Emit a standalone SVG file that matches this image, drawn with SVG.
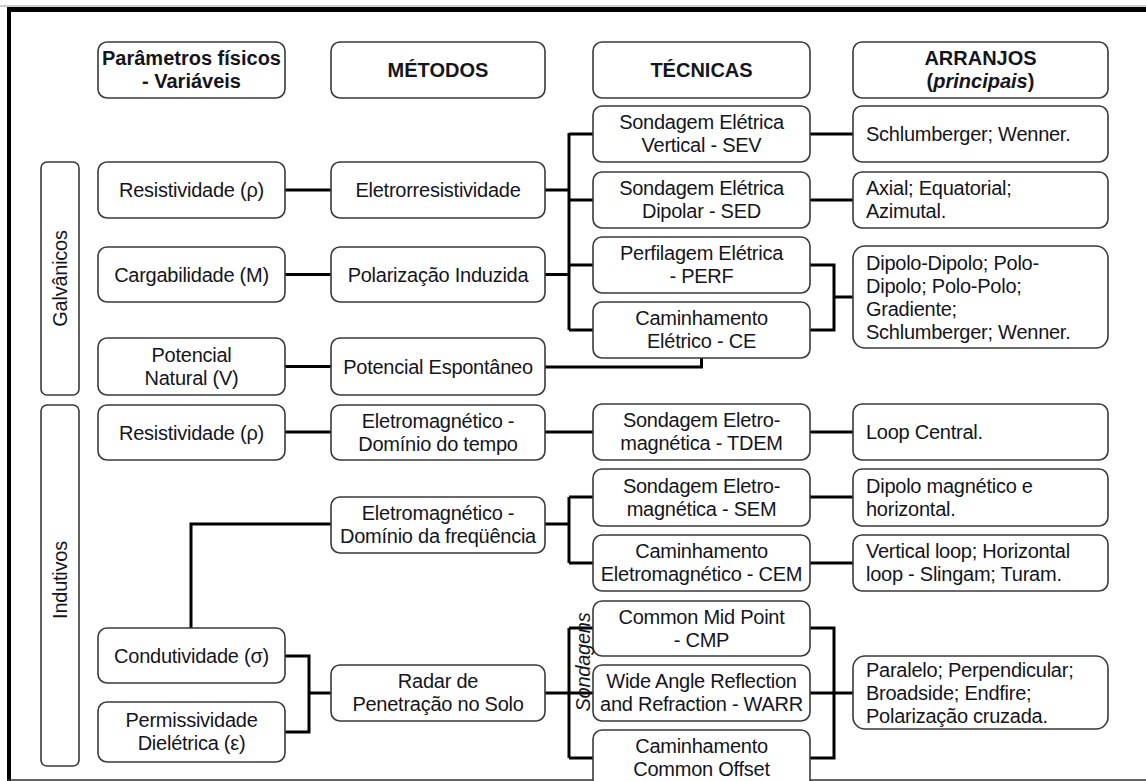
<svg xmlns="http://www.w3.org/2000/svg" width="1146" height="781" viewBox="0 0 1146 781">
<style>
.b{fill:#fff;stroke:#3a3a3a;stroke-width:1.6}
.t{font-family:"Liberation Sans",Arial,sans-serif;font-size:20px;letter-spacing:-0.25px;fill:#15151c;text-anchor:middle}
.l{text-anchor:start}
.h{font-weight:bold;letter-spacing:0}
.c{fill:none;stroke:#000;stroke-width:3}
</style>
<rect width="1146" height="781" fill="#fff"/>
<g id="frame">
<line x1="0" y1="6" x2="1146" y2="6" stroke="#999" stroke-width="1"/>
<line x1="7" y1="9.5" x2="1146" y2="9.5" stroke="#000" stroke-width="5"/>
<line x1="9" y1="7" x2="9" y2="781" stroke="#000" stroke-width="4"/>
<line x1="7" y1="780" x2="1146" y2="780" stroke="#333" stroke-width="1.5"/>
</g>
<g id="connectors" class="c">
<path class="c" d="M285 190H331M285 274.5H331M285 366.5H331"/>
<path class="c" d="M545 190H569M545 274.5H569M569 133V330M569 134H593M569 200H593M569 265H593M569 330H593"/>
<path class="c" d="M810 134H853M810 200H853"/>
<path class="c" d="M810 265H834V330H810M834 297H853"/>
<path class="c" d="M545 367H701.5V358"/>
<path class="c" d="M285 432H331M545 432H593M810 432H853"/>
<path class="c" d="M331 524H191V628"/>
<path class="c" d="M545 524H569M569 497V563M569 497H593M569 563H593M810 497H853M810 563H853"/>
<path class="c" d="M285 656H309V732H285M309 693H331"/>
<path class="c" d="M545 693H593M569 628V758M569 628H593M569 758H593"/>
<path class="c" d="M810 628H834V758H810M810 693H853"/>
</g>
<g id="hdr-param"><rect class="b" x="98" y="42" width="187" height="56" rx="9"/><text class="t h" x="191.5" y="65">Parâmetros físicos</text><text class="t h" x="191.5" y="88">- Variáveis</text></g>
<g id="hdr-metodos"><rect class="b" x="331" y="42" width="214" height="56" rx="9"/><text class="t h" x="438" y="77">MÉTODOS</text></g>
<g id="hdr-tecnicas"><rect class="b" x="593" y="42" width="217" height="56" rx="9"/><text class="t h" x="701.5" y="77">TÉCNICAS</text></g>
<g id="hdr-arranjos"><rect class="b" x="853" y="42" width="255" height="56" rx="9"/><text class="t h" x="980.5" y="65">ARRANJOS</text><text class="t h" x="980.5" y="88">(<tspan font-style="italic">principais</tspan>)</text></g>
<g id="galvanicos"><rect class="b" x="41" y="162" width="38" height="233" rx="6"/><text class="t" transform="translate(67 278.5) rotate(-90)">Galvânicos</text></g>
<g id="indutivos"><rect class="b" x="41" y="405" width="38" height="361" rx="6"/><text class="t" transform="translate(67 580) rotate(-90)">Indutivos</text></g>
<g id="p-resist1"><rect class="b" x="98" y="162" width="187" height="56" rx="9"/><text class="t" x="191.5" y="197">Resistividade (ρ)</text></g>
<g id="p-carga"><rect class="b" x="98" y="247" width="187" height="55" rx="9"/><text class="t" x="191.5" y="281.5">Cargabilidade (M)</text></g>
<g id="p-potencial"><rect class="b" x="98" y="338" width="187" height="57" rx="9"/><text class="t" x="191.5" y="361.5">Potencial</text><text class="t" x="191.5" y="384.5">Natural (V)</text></g>
<g id="m-eletro"><rect class="b" x="331" y="162" width="214" height="56" rx="9"/><text class="t" x="438" y="197">Eletrorresistividade</text></g>
<g id="m-pi"><rect class="b" x="331" y="247" width="214" height="55" rx="9"/><text class="t" x="438" y="281.5">Polarização Induzida</text></g>
<g id="m-sp"><rect class="b" x="331" y="338" width="214" height="57" rx="9"/><text class="t" x="438" y="373.5">Potencial Espontâneo</text></g>
<g id="t-sev"><rect class="b" x="593" y="106" width="217" height="56" rx="9"/><text class="t" x="701.5" y="129">Sondagem Elétrica</text><text class="t" x="701.5" y="152">Vertical - SEV</text></g>
<g id="t-sed"><rect class="b" x="593" y="172" width="217" height="56" rx="9"/><text class="t" x="701.5" y="195">Sondagem Elétrica</text><text class="t" x="701.5" y="218">Dipolar - SED</text></g>
<g id="t-perf"><rect class="b" x="593" y="237" width="217" height="56" rx="9"/><text class="t" x="701.5" y="260">Perfilagem Elétrica</text><text class="t" x="701.5" y="283">- PERF</text></g>
<g id="t-ce"><rect class="b" x="593" y="302" width="217" height="56" rx="9"/><text class="t" x="701.5" y="325">Caminhamento</text><text class="t" x="701.5" y="348">Elétrico - CE</text></g>
<g id="a-sev"><rect class="b" x="853" y="106" width="255" height="56" rx="9"/><text class="t l" x="866" y="141">Schlumberger; Wenner.</text></g>
<g id="a-sed"><rect class="b" x="853" y="172" width="255" height="56" rx="9"/><text class="t l" x="866" y="195">Axial; Equatorial;</text><text class="t l" x="866" y="218">Azimutal.</text></g>
<g id="a-dip"><rect class="b" x="853" y="246" width="255" height="102" rx="12"/><text class="t l" x="866" y="269.5">Dipolo-Dipolo; Polo-</text><text class="t l" x="866" y="292.5">Dipolo; Polo-Polo;</text><text class="t l" x="866" y="315.5">Gradiente;</text><text class="t l" x="866" y="338.5">Schlumberger; Wenner.</text></g>
<g id="p-resist2"><rect class="b" x="98" y="405" width="187" height="55" rx="9"/><text class="t" x="191.5" y="439.5">Resistividade (ρ)</text></g>
<g id="m-emt"><rect class="b" x="331" y="405" width="214" height="55" rx="9"/><text class="t" x="438" y="427.5">Eletromagnético -</text><text class="t" x="438" y="450.5">Domínio do tempo</text></g>
<g id="t-tdem"><rect class="b" x="593" y="404" width="217" height="56" rx="9"/><text class="t" x="701.5" y="427">Sondagem Eletro-</text><text class="t" x="701.5" y="450">magnética - TDEM</text></g>
<g id="a-tdem"><rect class="b" x="853" y="404" width="255" height="56" rx="9"/><text class="t l" x="866" y="439">Loop Central.</text></g>
<g id="m-emf"><rect class="b" x="331" y="497" width="214" height="56" rx="9"/><text class="t" x="438" y="520">Eletromagnético -</text><text class="t" x="438" y="543">Domínio da freqüência</text></g>
<g id="t-sem"><rect class="b" x="593" y="469" width="217" height="57" rx="9"/><text class="t" x="701.5" y="492.5">Sondagem Eletro-</text><text class="t" x="701.5" y="515.5">magnética - SEM</text></g>
<g id="a-sem"><rect class="b" x="853" y="469" width="255" height="57" rx="9"/><text class="t l" x="866" y="492.5">Dipolo magnético e</text><text class="t l" x="866" y="515.5">horizontal.</text></g>
<g id="t-cem"><rect class="b" x="593" y="535" width="217" height="56" rx="9"/><text class="t" x="701.5" y="558">Caminhamento</text><text class="t" x="701.5" y="581">Eletromagnético - CEM</text></g>
<g id="a-cem"><rect class="b" x="853" y="535" width="255" height="56" rx="9"/><text class="t l" x="866" y="558">Vertical loop; Horizontal</text><text class="t l" x="866" y="581">loop - Slingam; Turam.</text></g>
<g id="p-cond"><rect class="b" x="98" y="628" width="187" height="55" rx="9"/><text class="t" x="191.5" y="662.5">Condutividade (σ)</text></g>
<g id="p-perm"><rect class="b" x="98" y="702" width="187" height="60" rx="9"/><text class="t" x="191.5" y="727">Permissividade</text><text class="t" x="191.5" y="750">Dielétrica (ε)</text></g>
<g id="m-radar"><rect class="b" x="331" y="665" width="214" height="56" rx="9"/><text class="t" x="438" y="688">Radar de</text><text class="t" x="438" y="711">Penetração no Solo</text></g>
<g id="t-cmp"><rect class="b" x="593" y="601" width="217" height="55" rx="9"/><text class="t" x="701.5" y="623.5">Common Mid Point</text><text class="t" x="701.5" y="646.5">- CMP</text></g>
<g id="t-warr"><rect class="b" x="593" y="665" width="217" height="56" rx="9"/><text class="t" x="701.5" y="688">Wide Angle Reflection</text><text class="t" x="701.5" y="711">and Refraction - WARR</text></g>
<g id="t-co"><rect class="b" x="593" y="730" width="217" height="70" rx="9"/><text class="t" x="701.5" y="753">Caminhamento</text><text class="t" x="701.5" y="776">Common Offset</text></g>
<g id="a-gpr"><rect class="b" x="853" y="656" width="255" height="73" rx="12"/><text class="t l" x="866" y="676.5">Paralelo; Perpendicular;</text><text class="t l" x="866" y="699.5">Broadside; Endfire;</text><text class="t l" x="866" y="722.5">Polarização cruzada.</text></g>
<g id="sondagens"><text class="t" font-style="italic" transform="translate(590 662) rotate(-90)">Sondagens</text></g>
<rect x="0" y="781" width="1146" height="1" fill="#fff"/>
</svg>
